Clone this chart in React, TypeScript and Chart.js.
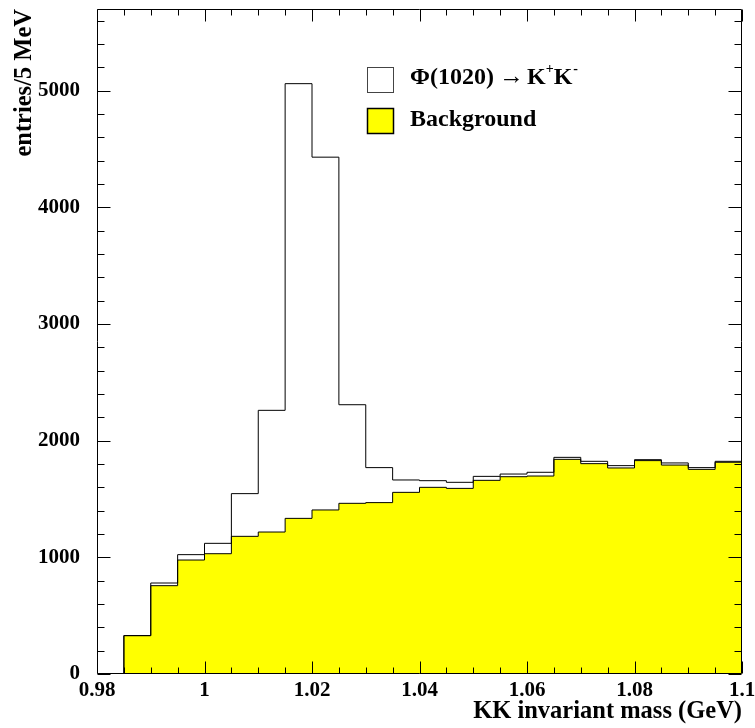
import React, { useEffect, useRef } from "react";
import { Chart, registerables } from "chart.js";

Chart.register(...registerables);

// ---- data ----
const binLowEdges = [
  0.985, 0.99, 0.995, 1.0, 1.005, 1.01, 1.015, 1.02, 1.025, 1.03, 1.035, 1.04,
  1.045, 1.05, 1.055, 1.06, 1.065, 1.07, 1.075, 1.08, 1.085, 1.09, 1.095,
];
const upperEdge = 1.1;
const totalCounts = [
  330, 780, 1023, 1120, 1546, 2260, 5060, 4430, 2308, 1769, 1663, 1657, 1643,
  1694, 1714, 1729, 1857, 1823, 1786, 1837, 1809, 1769, 1823,
];
const backgroundCounts = [
  328, 757, 977, 1031, 1180, 1217, 1334, 1406, 1463, 1469, 1557, 1600, 1591,
  1660, 1691, 1697, 1840, 1803, 1766, 1829, 1791, 1754, 1815,
];
const xTickValues = [0.98, 1.0, 1.02, 1.04, 1.06, 1.08, 1.1];
const xTickLabels = ["0.98", "1", "1.02", "1.04", "1.06", "1.08", "1.1"];
const yTickValues = [0, 1000, 2000, 3000, 4000, 5000];
const yTickLabels = ["0", "1000", "2000", "3000", "4000", "5000"];
const xMin = 0.98;
const xMax = 1.1;
const yMin = 0;
const yMax = 5700;
const xMinorStep = 0.005;
const yMinorStep = 200;

const signalLabel = "\u03A6(1020)";
const backgroundLabel = "Background";

const SERIF = '"Liberation Serif", "Times New Roman", serif';

function stepPoints(counts: number[]) {
  const pts: { x: number; y: number }[] = [{ x: binLowEdges[0], y: 0 }];
  counts.forEach((c, i) => pts.push({ x: binLowEdges[i], y: c }));
  pts.push({ x: upperEdge, y: counts[counts.length - 1] });
  return pts;
}

function nearestLabel(values: number[], labels: string[], v: number) {
  let best = 0;
  for (let i = 1; i < values.length; i++) {
    if (Math.abs(values[i] - v) < Math.abs(values[best] - v)) best = i;
  }
  return labels[best];
}

const framePlugin = {
  id: "rootFrame",
  afterDraw(chart: any) {
    const { ctx, chartArea, scales } = chart;
    const xs = scales.x;
    const ys = scales.y;
    const L = Math.round(chartArea.left) + 0.5;
    const R = Math.round(chartArea.right) - 0.5;
    const T = Math.round(chartArea.top) + 0.5;
    const B = Math.round(chartArea.bottom) - 0.5;
    ctx.save();
    ctx.strokeStyle = "#000";
    ctx.lineWidth = 1;
    ctx.beginPath();
    ctx.rect(L, T, R - L, B - T);
    ctx.stroke();

    ctx.beginPath();
    const nx = Math.round((xMax - xMin) / xMinorStep);
    for (let k = 0; k <= nx; k++) {
      const v = xMin + k * xMinorStep;
      const px = Math.round(xs.getPixelForValue(v)) + 0.5;
      const major = k % 4 === 0;
      const len = major ? 12 : 6;
      ctx.moveTo(px, B);
      ctx.lineTo(px, B - len);
      ctx.moveTo(px, T);
      ctx.lineTo(px, T + len);
    }
    for (let v = yMin; v <= yMax; v += yMinorStep) {
      const py = Math.round(ys.getPixelForValue(v)) + 0.5;
      const major = v % 1000 === 0;
      const len = major ? 13 : 7;
      ctx.moveTo(L, py);
      ctx.lineTo(L + len, py);
      ctx.moveTo(R, py);
      ctx.lineTo(R - len, py);
    }
    ctx.stroke();

    // legend
    const boxX = 367.5;
    ctx.fillStyle = "#fff";
    ctx.fillRect(boxX, 67.5, 26, 25);
    ctx.strokeStyle = "#444";
    ctx.lineWidth = 1;
    ctx.strokeRect(boxX, 67.5, 26, 25);
    ctx.fillStyle = "#ffff00";
    ctx.fillRect(boxX, 108.5, 26, 25);
    ctx.strokeStyle = "#000";
    ctx.lineWidth = 1.5;
    ctx.strokeRect(boxX, 108.5, 26, 25);

    ctx.fillStyle = "#000";
    ctx.textBaseline = "alphabetic";
    ctx.textAlign = "left";
    const bold = `bold 24px ${SERIF}`;
    const by = 84;
    ctx.font = bold;
    ctx.fillText(signalLabel, 410, by);
    ctx.font = `25px ${SERIF}`;
    ctx.fillText("\u2192", 499, by);
    let x = 527;
    ctx.font = bold;
    ctx.fillText("K", x, by);
    x += ctx.measureText("K").width;
    ctx.font = `bold 14px ${SERIF}`;
    ctx.fillText("+", x, by - 11);
    x += ctx.measureText("+").width;
    ctx.font = bold;
    ctx.fillText("K", x, by);
    x += ctx.measureText("K").width;
    ctx.font = `bold 14px ${SERIF}`;
    ctx.fillText("-", x + 1, by - 11);

    ctx.font = bold;
    ctx.fillText(backgroundLabel, 410, 126);
    ctx.restore();
  },
};

export default function App() {
  const canvasRef = useRef<HTMLCanvasElement | null>(null);

  useEffect(() => {
    const canvas = canvasRef.current;
    if (!canvas) return;
    const tickFont = { family: SERIF, size: 21, weight: "bold" as const };
    const titleFont = { family: SERIF, size: 24.5, weight: "bold" as const };
    const chart = new Chart(canvas, {
      type: "line",
      data: {
        datasets: [
          {
            label: signalLabel,
            data: stepPoints(totalCounts),
            stepped: "before",
            borderColor: "#000",
            borderWidth: 1,
            pointRadius: 0,
            fill: false,
          },
          {
            label: backgroundLabel,
            data: stepPoints(backgroundCounts),
            stepped: "before",
            borderColor: "#000",
            borderWidth: 1,
            backgroundColor: "#ffff00",
            pointRadius: 0,
            fill: "origin",
          },
        ],
      },
      options: {
        animation: false,
        responsive: false,
        maintainAspectRatio: false,
        layout: { padding: { left: 0, right: 13, top: 9, bottom: 0 } },
        plugins: {
          legend: { display: false },
          tooltip: { enabled: false },
        },
        scales: {
          x: {
            type: "linear",
            min: xMin,
            max: xMax,
            grid: { display: false, drawTicks: false },
            border: { display: false },
            afterBuildTicks: (s: any) => {
              s.ticks = xTickValues.map((v) => ({ value: v }));
            },
            afterFit: (s: any) => {
              s.height = 54;
              s.paddingLeft = 0;
              s.paddingRight = 0;
            },
            ticks: {
              autoSkip: false,
              maxRotation: 0,
              minRotation: 0,
              padding: 4,
              color: "#000",
              font: tickFont,
              callback: (v: any) => nearestLabel(xTickValues, xTickLabels, Number(v)),
            },
            title: {
              display: true,
              text: "KK invariant mass (GeV)",
              align: "end",
              color: "#000",
              font: titleFont,
              padding: { top: 0, bottom: 2 },
            },
          },
          y: {
            type: "linear",
            min: yMin,
            max: yMax,
            grid: { display: false, drawTicks: false },
            border: { display: false },
            afterBuildTicks: (s: any) => {
              s.ticks = yTickValues.map((v) => ({ value: v }));
            },
            afterFit: (s: any) => {
              s.width = 97;
              s.paddingTop = 0;
              s.paddingBottom = 0;
            },
            ticks: {
              autoSkip: false,
              padding: 17,
              color: "#000",
              font: tickFont,
              callback: (v: any) => nearestLabel(yTickValues, yTickLabels, Number(v)),
            },
            title: {
              display: true,
              text: "entries/5 MeV",
              align: "end",
              color: "#000",
              font: titleFont,
              padding: { top: 10, bottom: 0 },
            },
          },
        },
      },
      plugins: [framePlugin],
    } as any);
    return () => chart.destroy();
  }, []);

  return (
    <div style={{ position: "absolute", left: 0, top: 0, width: 755, height: 728, background: "#fff" }}>
      <canvas ref={canvasRef} width={755} height={728} style={{ display: "block" }} />
    </div>
  );
}
